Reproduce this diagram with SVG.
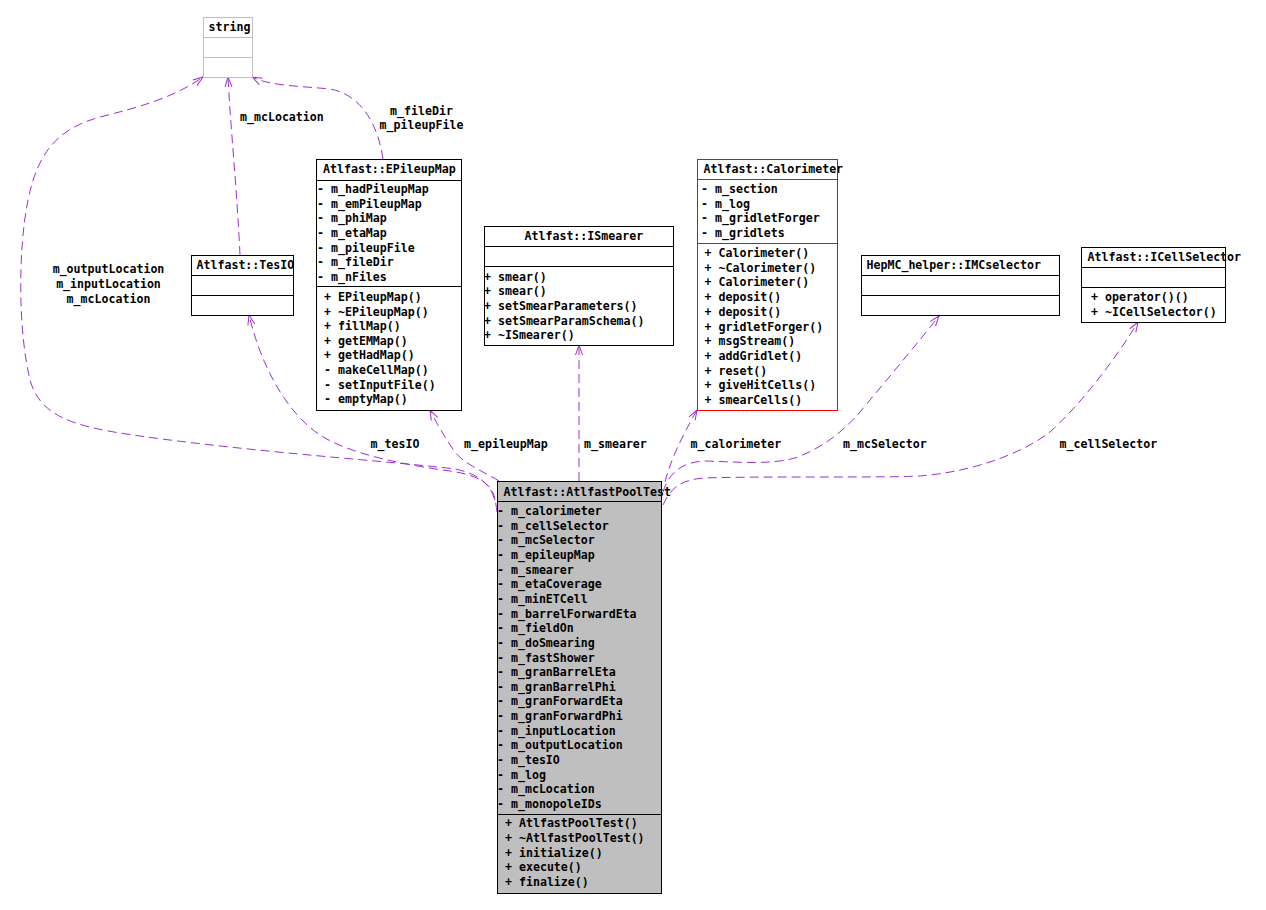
<svg xmlns="http://www.w3.org/2000/svg" width="1266" height="910" viewBox="0 0 1266 910">
<style>
.t{font-family:"DejaVu Sans Mono","Liberation Mono",monospace;font-size:11.6px;font-weight:bold;fill:#000}
.m{text-anchor:middle}
.box{fill:#fff;stroke:#000;stroke-width:1}
.gray{fill:#fff;stroke:#bfbfbf;stroke-width:1}
.red{fill:#fff;stroke:#ff0000;stroke-width:1}
.main{fill:#bfbfbf;stroke:#000;stroke-width:1}
.e{fill:none;stroke:#9a32cd;stroke-width:1;stroke-dasharray:9,5;marker-end:url(#arr)}
</style>
<defs>
<marker id="arr" markerWidth="12" markerHeight="10" refX="10" refY="4" orient="auto" markerUnits="userSpaceOnUse" overflow="visible">
<path d="M0,0.5 L10,4 L0,7.5" fill="none" stroke="#9a32cd" stroke-width="1"/>
</marker>
</defs>
<rect width="1266" height="910" fill="#fff"/>

<g id="connectors">
<path class="e" d="M497,512 C495,490 485,475 455,469 C400,462 250,452 133,435 C70,426 40,415 30,380 C18,330 18,250 28,200 C38,150 60,128 100,117 C140,107 175,97 203,77"/>
<path class="e" d="M495,500 C493,484 478,475 450,471 C405,465 355,455 325,438 C290,418 262,370 249,315"/>
<path class="e" d="M240,255 C237,190 230,120 228,77"/>
<path class="e" d="M383,159 C378,125 362,95 330,89 C300,86 270,86 252,77"/>
<path class="e" d="M499,481 C485,472 465,465 455,452 C445,438 436,422 430,410"/>
<path class="e" d="M579,481 L579,345"/>
<path class="e" d="M665,482 C670,462 680,440 697,410"/>
<path class="e" d="M663,492 C668,475 680,462 705,461 C740,462 770,465 795,458 C830,445 850,425 870,400 C895,370 920,340 939,316"/>
<path class="e" d="M663,505 C670,490 678,480 704,478 C760,476 880,478 920,476 C970,472 1020,455 1050,432 C1080,405 1115,360 1138,322"/>
<text class="t m" x="108.5" y="273">m_outputLocation</text>
<text class="t m" x="108.5" y="288">m_inputLocation</text>
<text class="t m" x="108.5" y="303">m_mcLocation</text>
<text class="t" x="240" y="121">m_mcLocation</text>
<text class="t m" x="421.5" y="115">m_fileDir</text>
<text class="t m" x="421.5" y="129.3">m_pileupFile</text>
<text class="t" x="370.5" y="448">m_tesIO</text>
<text class="t" x="464" y="448">m_epileupMap</text>
<text class="t" x="584" y="448">m_smearer</text>
<text class="t" x="690.5" y="448">m_calorimeter</text>
<text class="t" x="843" y="448">m_mcSelector</text>
<text class="t" x="1059.5" y="448">m_cellSelector</text>
</g>

<g id="string">
<rect class="gray" x="203.5" y="17.5" width="49" height="60"/>
<line x1="203.5" y1="37.5" x2="252.5" y2="37.5" stroke="#bfbfbf"/>
<line x1="203.5" y1="57.5" x2="252.5" y2="57.5" stroke="#bfbfbf"/>
<text class="t" x="208.5" y="31">string</text>
</g>

<g id="TesIO">
<rect class="box" x="191.5" y="255.5" width="102" height="60"/>
<line x1="191.5" y1="275.5" x2="293.5" y2="275.5" stroke="#000"/>
<line x1="191.5" y1="295.5" x2="293.5" y2="295.5" stroke="#000"/>
<text class="t" x="196.5" y="269">Atlfast::TesIO</text>
</g>

<g id="EPileupMap">
<rect class="box" x="316.5" y="159.5" width="145" height="251"/>
<line x1="316.5" y1="180.5" x2="461.5" y2="180.5" stroke="#000"/>
<line x1="316.5" y1="286.5" x2="461.5" y2="286.5" stroke="#000"/>
<text class="t" x="323" y="173">Atlfast::EPileupMap</text>
<text class="t"><tspan x="317" y="193">- m_hadPileupMap</tspan><tspan x="317" dy="14.65">- m_emPileupMap</tspan><tspan x="317" dy="14.65">- m_phiMap</tspan><tspan x="317" dy="14.65">- m_etaMap</tspan><tspan x="317" dy="14.65">- m_pileupFile</tspan><tspan x="317" dy="14.65">- m_fileDir</tspan><tspan x="317" dy="14.65">- m_nFiles</tspan></text>
<text class="t"><tspan x="324" y="301">+ EPileupMap()</tspan><tspan x="324" dy="14.6">+ ~EPileupMap()</tspan><tspan x="324" dy="14.6">+ fillMap()</tspan><tspan x="324" dy="14.6">+ getEMMap()</tspan><tspan x="324" dy="14.6">+ getHadMap()</tspan><tspan x="324" dy="14.6">- makeCellMap()</tspan><tspan x="324" dy="14.6">- setInputFile()</tspan><tspan x="324" dy="14.6">- emptyMap()</tspan></text>
</g>

<g id="ISmearer">
<rect class="box" x="484.5" y="226.5" width="189" height="119"/>
<line x1="484.5" y1="246.5" x2="673.5" y2="246.5" stroke="#000"/>
<line x1="484.5" y1="266.5" x2="673.5" y2="266.5" stroke="#000"/>
<text class="t" x="524.5" y="240">Atlfast::ISmearer</text>
<text class="t"><tspan x="484" y="280.7">+ smear()</tspan><tspan x="484" dy="14.6">+ smear()</tspan><tspan x="484" dy="14.6">+ setSmearParameters()</tspan><tspan x="484" dy="14.6">+ setSmearParamSchema()</tspan><tspan x="484" dy="14.6">+ ~ISmearer()</tspan></text>
</g>

<g id="Calorimeter">
<rect class="red" x="697.5" y="159.5" width="140" height="251"/>
<line x1="697.5" y1="179.5" x2="837.5" y2="179.5" stroke="#ff0000"/>
<line x1="697.5" y1="243.5" x2="837.5" y2="243.5" stroke="#ff0000"/>
<text class="t" x="703.5" y="173">Atlfast::Calorimeter</text>
<text class="t"><tspan x="701" y="193">- m_section</tspan><tspan x="701" dy="14.65">- m_log</tspan><tspan x="701" dy="14.65">- m_gridletForger</tspan><tspan x="701" dy="14.65">- m_gridlets</tspan></text>
<text class="t"><tspan x="704.5" y="257">+ Calorimeter()</tspan><tspan x="704.5" dy="14.7">+ ~Calorimeter()</tspan><tspan x="704.5" dy="14.7">+ Calorimeter()</tspan><tspan x="704.5" dy="14.7">+ deposit()</tspan><tspan x="704.5" dy="14.7">+ deposit()</tspan><tspan x="704.5" dy="14.7">+ gridletForger()</tspan><tspan x="704.5" dy="14.7">+ msgStream()</tspan><tspan x="704.5" dy="14.7">+ addGridlet()</tspan><tspan x="704.5" dy="14.7">+ reset()</tspan><tspan x="704.5" dy="14.7">+ giveHitCells()</tspan><tspan x="704.5" dy="14.7">+ smearCells()</tspan></text>
</g>

<g id="IMCselector">
<rect class="box" x="861.5" y="255.5" width="198" height="60"/>
<line x1="861.5" y1="275.5" x2="1059.5" y2="275.5" stroke="#000"/>
<line x1="861.5" y1="295.5" x2="1059.5" y2="295.5" stroke="#000"/>
<text class="t" x="866.5" y="269">HepMC_helper::IMCselector</text>
</g>

<g id="ICellSelector">
<rect class="box" x="1081.5" y="247.5" width="144" height="75"/>
<line x1="1081.5" y1="267.5" x2="1225.5" y2="267.5" stroke="#000"/>
<line x1="1081.5" y1="287.5" x2="1225.5" y2="287.5" stroke="#000"/>
<text class="t" x="1087.5" y="261">Atlfast::ICellSelector</text>
<text class="t"><tspan x="1091" y="301.3">+ operator()()</tspan><tspan x="1091" dy="14.6">+ ~ICellSelector()</tspan></text>
</g>

<g id="AtlfastPoolTest">
<rect class="main" x="497.5" y="481.5" width="164" height="412"/>
<line x1="497.5" y1="501.5" x2="661.5" y2="501.5" stroke="#000"/>
<line x1="497.5" y1="814.5" x2="661.5" y2="814.5" stroke="#000"/>
<text class="t" x="503.5" y="496">Atlfast::AtlfastPoolTest</text>
<text class="t"><tspan x="497" y="515">- m_calorimeter</tspan><tspan x="497" dy="14.65">- m_cellSelector</tspan><tspan x="497" dy="14.65">- m_mcSelector</tspan><tspan x="497" dy="14.65">- m_epileupMap</tspan><tspan x="497" dy="14.65">- m_smearer</tspan><tspan x="497" dy="14.65">- m_etaCoverage</tspan><tspan x="497" dy="14.65">- m_minETCell</tspan><tspan x="497" dy="14.65">- m_barrelForwardEta</tspan><tspan x="497" dy="14.65">- m_fieldOn</tspan><tspan x="497" dy="14.65">- m_doSmearing</tspan><tspan x="497" dy="14.65">- m_fastShower</tspan><tspan x="497" dy="14.65">- m_granBarrelEta</tspan><tspan x="497" dy="14.65">- m_granBarrelPhi</tspan><tspan x="497" dy="14.65">- m_granForwardEta</tspan><tspan x="497" dy="14.65">- m_granForwardPhi</tspan><tspan x="497" dy="14.65">- m_inputLocation</tspan><tspan x="497" dy="14.65">- m_outputLocation</tspan><tspan x="497" dy="14.65">- m_tesIO</tspan><tspan x="497" dy="14.65">- m_log</tspan><tspan x="497" dy="14.65">- m_mcLocation</tspan><tspan x="497" dy="14.65">- m_monopoleIDs</tspan></text>
<text class="t"><tspan x="505" y="827">+ AtlfastPoolTest()</tspan><tspan x="505" dy="14.8">+ ~AtlfastPoolTest()</tspan><tspan x="505" dy="14.8">+ initialize()</tspan><tspan x="505" dy="14.8">+ execute()</tspan><tspan x="505" dy="14.8">+ finalize()</tspan></text>
</g>
</svg>
